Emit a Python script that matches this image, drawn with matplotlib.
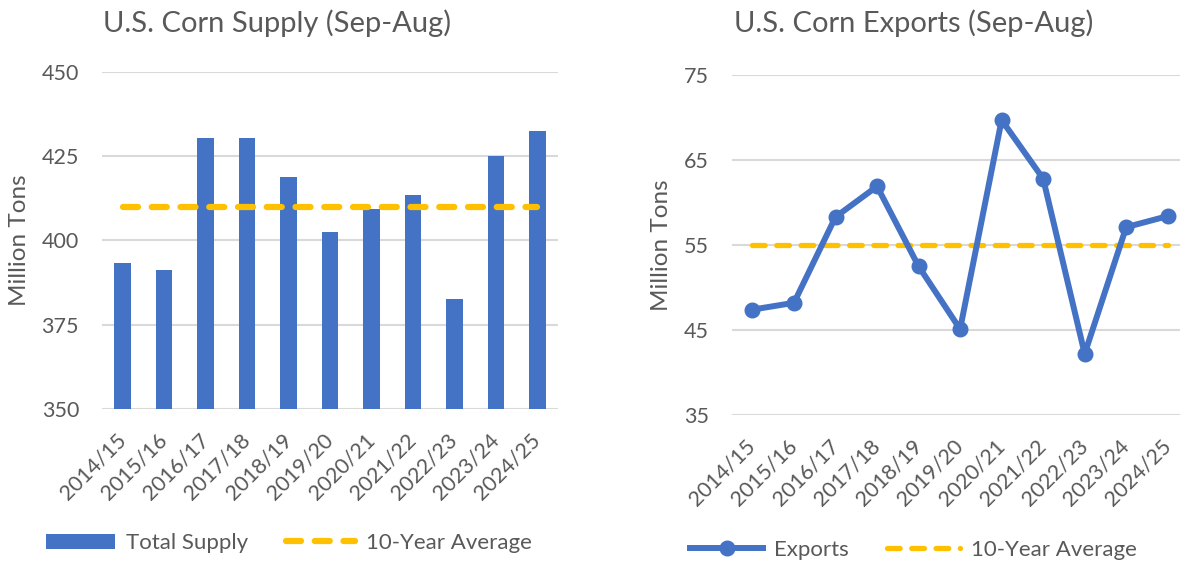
import matplotlib.pyplot as plt
import numpy as np

# values
years = ["2014/15", "2015/16", "2016/17", "2017/18", "2018/19", "2019/20",
         "2020/21", "2021/22", "2022/23", "2023/24", "2024/25"]
supply = [393.2, 391.1, 430.3, 430.2, 418.9, 402.4, 409.3, 413.3, 382.7, 425.0, 432.4]
supply_avg = 409.8
exports = [47.4, 48.2, 58.3, 61.9, 52.5, 45.1, 69.7, 62.8, 42.2, 57.1, 58.4]
exports_avg = 55.0

plt.rcParams["font.family"] = ["Lato", "DejaVu Sans"]
grey = "#595959"
blue = "#4472C4"
gold = "#FFC000"

W, H = 1180, 563
fig = plt.figure(figsize=(W / 100, H / 100), dpi=100)
ax1 = fig.add_axes([102 / W, 1 - 409 / H, 456 / W, 337.3 / H])
ax2 = fig.add_axes([731.7 / W, 1 - 415 / H, 456.8 / W, 340 / H])

x = np.arange(len(years))

# left: total supply bars + average
bars = ax1.bar(x, supply, width=0.4, color=blue, label="Total Supply", zorder=2)
avg1, = ax1.plot(x, [supply_avg] * len(x), color=gold, lw=4.5, dashes=(2.4, 2.2),
                 dash_capstyle="round", label="10-Year Average", zorder=3)
ax1.set_ylim(350, 450)
ax1.set_yticks([350, 375, 400, 425, 450])

# right: exports line + average
ax2.plot(x, exports, color=blue, lw=4.3, marker="o", ms=10.5,
         solid_joinstyle="round", label="Exports", zorder=3)
ax2.plot(x, [exports_avg] * len(x), color=gold, lw=3.8, dashes=(2.4, 2.2),
         dash_capstyle="round", label="10-Year Average", zorder=2)
ax2.set_ylim(35, 75)
ax2.set_yticks([35, 45, 55, 65, 75])

for ax in (ax1, ax2):
    for s in ax.spines.values():
        s.set_visible(False)
    ax.set_xlim(-0.5, 10.5)
    ax.grid(axis="y", color="#D9D9D9", lw=1.5, zorder=0)
    ax.set_axisbelow(True)
    ax.tick_params(length=0, colors=grey, labelsize=15.5)
    ax.tick_params(axis="y", pad=16.5)
    ax.tick_params(axis="x", pad=20)
    ax.set_xticks(x)
    ax.set_xticklabels(years, rotation=45, ha="right", va="center",
                       rotation_mode="anchor")

# titles and axis labels
fig.text(277 / W, 1 - 31.7 / H, "U.S. Corn Supply (Sep-Aug)", ha="center",
         va="baseline", fontsize=21, color=grey)
fig.text(914 / W, 1 - 31.7 / H, "U.S. Corn Exports (Sep-Aug)", ha="center",
         va="baseline", fontsize=21, color=grey)
fig.text(20 / W, 1 - 240 / H, "Million Tons", rotation=90, ha="center",
         va="center", fontsize=17.5, color=grey)
fig.text(662 / W, 1 - 245 / H, "Million Tons", rotation=90, ha="center",
         va="center", fontsize=17.5, color=grey)

# legends under each chart
ax1.legend(handles=[bars, avg1], loc="center left",
           bbox_to_anchor=(46 / W, 1 - 543 / H),
           bbox_transform=fig.transFigure, ncol=2, frameon=False, fontsize=16,
           handlelength=3.1, handleheight=0.65, handletextpad=0.5,
           columnspacing=1.7, borderpad=0, borderaxespad=0, labelcolor=grey)
ax2.legend(loc="center left", bbox_to_anchor=(690 / W, 1 - 550 / H),
           bbox_transform=fig.transFigure, ncol=2, frameon=False, fontsize=16,
           handlelength=3.3, handletextpad=0.5, columnspacing=1.7,
           borderpad=0, borderaxespad=0, labelcolor=grey)

fig.savefig("out.png", dpi=100)
